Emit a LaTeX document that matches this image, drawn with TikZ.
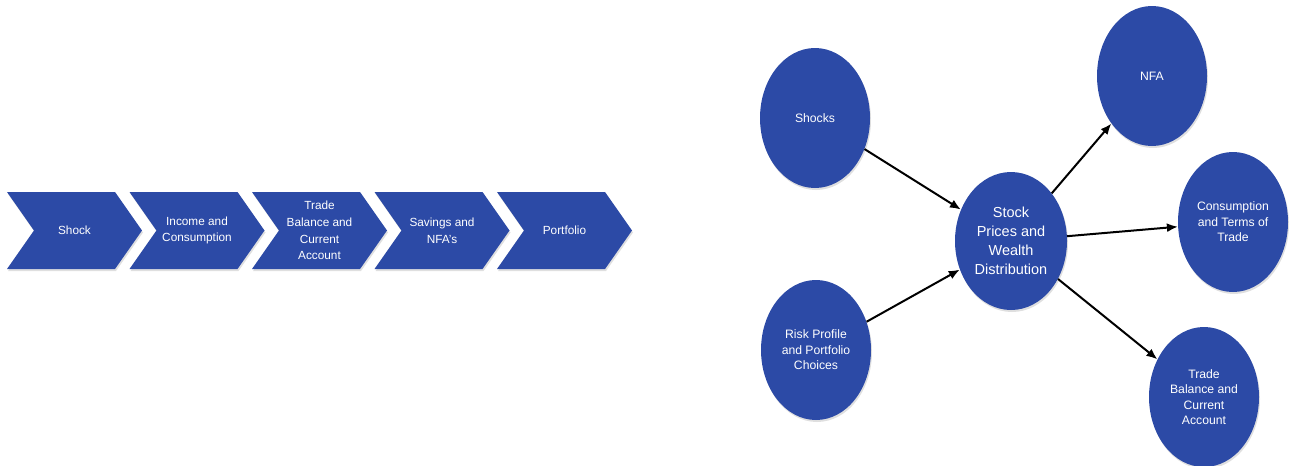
\documentclass[tikz,border=0pt]{standalone}
\usepackage{fontspec}
\setmainfont{Liberation Sans}
\usetikzlibrary{arrows.meta, positioning, shapes.geometric, shapes.symbols, shadows}
\definecolor{flowblue}{RGB}{44,74,166}
\tikzset{
  stage/.style={signal, signal from=west, signal to=east, signal pointer angle=110, fill=flowblue, text=white, minimum width=135pt, minimum height=77pt, inner sep=0pt, align=center, font=\fontsize{11.8}{16.8}\selectfont, drop shadow={opacity=0.25, shadow xshift=1pt, shadow yshift=-2pt}},
  bubble/.style={ellipse, fill=flowblue, text=white, minimum width=110pt, minimum height=140pt, inner sep=0pt, align=center, font=\fontsize{12.2}{15.5}\selectfont, drop shadow={opacity=0.25, shadow xshift=1pt, shadow yshift=-2pt}},
  hub/.style={bubble, minimum width=112pt, minimum height=138pt, font=\fontsize{14.5}{19}\selectfont},
  link/.style={-{Latex[length=11pt, width=9pt]}, line width=2pt},
}

\begin{document}
\begin{tikzpicture}[x=1pt, y=-1pt]
  \useasboundingbox (0,0) rectangle (1291,466);

  % left: the chain of effects
  \node[stage] (shock) at (74.5,230.5) {Shock};
  \node[stage] (income) at (197,230.5) {Income and\\Consumption};
  \node[stage] (trade) at (319.5,230.5) {Trade\\Balance and\\Current\\Account};
  \node[stage] (savings) at (442,230.5) {Savings and\\NFA's};
  \node[stage] (portfolio) at (564.5,230.5) {Portfolio};

  % right: stock prices in the middle
  \node[bubble] (shocks) at (815,118) {Shocks};
  \node[bubble] (risk) at (816,350) {Risk Profile\\and Portfolio\\Choices};
  \node[hub] (prices) at (1011,241) {Stock\\Prices and\\Wealth\\Distribution};
  \node[bubble] (nfa) at (1152,76) {NFA};
  \node[bubble] (terms) at (1233,222) {Consumption\\and Terms of\\Trade};
  \node[bubble] (current) at (1204,397) {Trade\\Balance and\\Current\\Account};

  \draw[link] (shocks) -- (prices);
  \draw[link] (risk) -- (prices);
  \draw[link] (prices) -- (nfa);
  \draw[link] (prices) -- (terms);
  \draw[link] (prices) -- (current);
\end{tikzpicture}
\end{document}
